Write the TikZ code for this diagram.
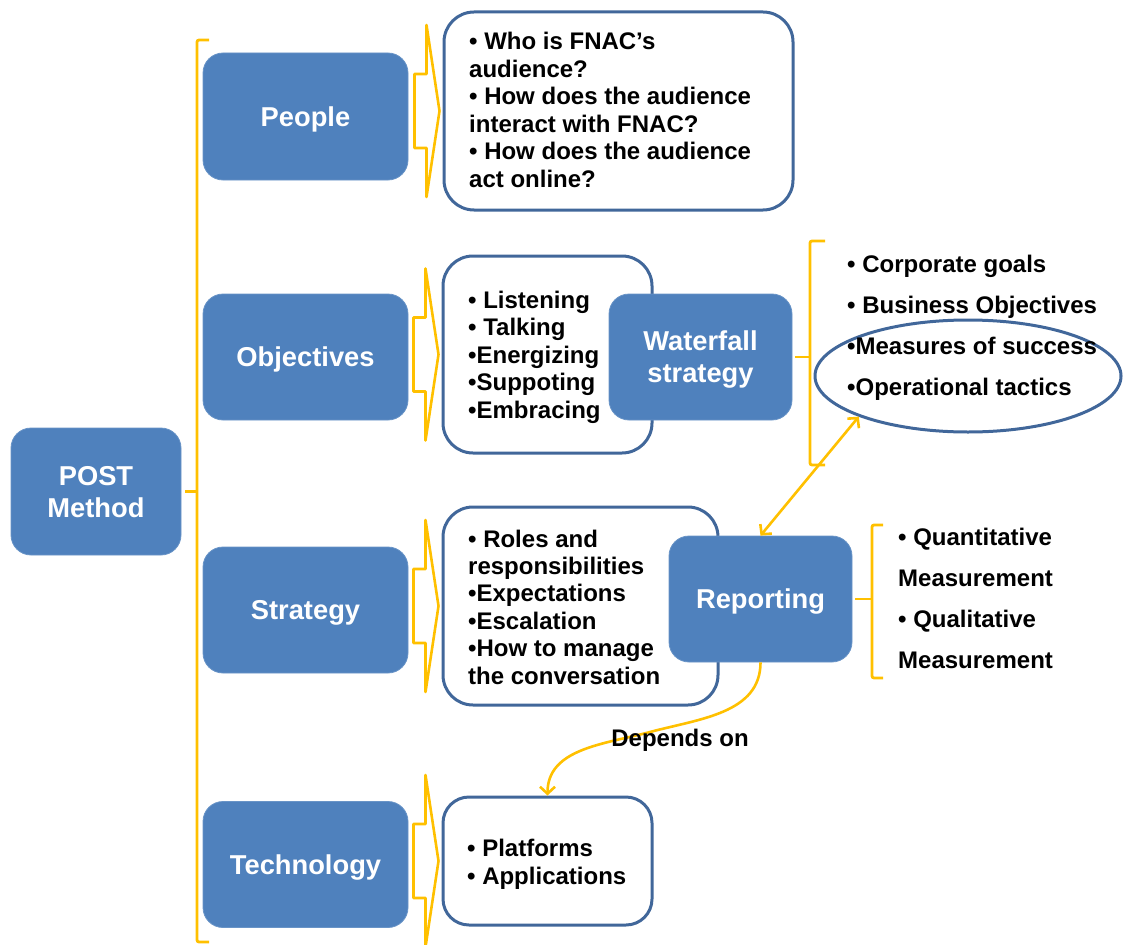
\documentclass[tikz,border=0pt]{standalone}
\usepackage{fontspec}
\setmainfont{Liberation Sans}
\usetikzlibrary{arrows.meta,shapes.geometric}
\definecolor{boxblue}{HTML}{4F81BD}
\definecolor{edgeblue}{HTML}{41679A}
\definecolor{gold}{HTML}{FFC000}
\begin{document}
\begin{tikzpicture}[x=1pt,y=-1pt,
  bluebox/.style={rectangle, rounded corners=20pt, fill=boxblue, draw=boxblue!85!white,
    line width=0.8pt, text=white, font=\fontsize{27.3}{32}\selectfont\bfseries,
    align=center, inner sep=0pt, text depth=0pt},
  whitebox/.style={rectangle, rounded corners=30pt, fill=white, draw=edgeblue,
    line width=3pt, inner sep=0pt},
  % multi-line text: the base anchor sits on the last line
  txt/.style={font=\fontsize{24}{27.4}\selectfont\bfseries, align=left,
    inner sep=0pt, anchor=base west},
  listtxt/.style={font=\fontsize{24}{41}\selectfont\bfseries, align=left,
    inner sep=0pt, anchor=base west},
  brk/.style={draw=gold, line width=2.8pt, rounded corners=2pt},
  goldarrow/.style={draw=gold, line width=2.6pt},
  barb/.tip={Straight Barb[length=7pt,width=15pt,line width=2.6pt]},
  notch/.pic={\draw[draw=gold, line width=2.6pt, line join=round]
    (-25,-37) -- (-13,-37) -- (-13,-86) -- (0,0) -- (-13,86) -- (-13,37) -- (-25,37) -- cycle;}
]
\useasboundingbox (0,0) rectangle (1123,944);

% main left column
\node[bluebox, minimum width=170pt, minimum height=127pt] (post) at (96,491.5) {POST\\Method};
\node[bluebox, minimum width=205pt, minimum height=127pt] (people) at (305.5,116.5) {People};
\node[bluebox, minimum width=205pt, minimum height=126pt] (objectives) at (305.5,357) {Objectives};
\node[bluebox, minimum width=205pt, minimum height=126pt] (strategy) at (305.5,610) {Strategy};
\node[bluebox, minimum width=205pt, minimum height=126pt] (technology) at (305.5,864.5) {Technology};

% big bracket grouping the four pillars
\draw[brk] (209,40) -- (197,40) -- (197,942) -- (209,942);
\draw[brk] ([xshift=4pt]post.east) -- (197,491.5);

% detail boxes
\node[whitebox, minimum width=349pt, minimum height=198pt] (peoplew) at (618.5,111) {};
\node[whitebox, minimum width=209pt, minimum height=197pt] (objw) at (547.5,354.5) {};
\node[whitebox, minimum width=275pt, minimum height=198pt] (stratw) at (580.5,606) {};
\node[whitebox, minimum width=209pt, minimum height=128pt, rounded corners=26pt] (techw) at (547.5,861) {};

% block arrows into detail boxes
\pic[xshift=-3pt] at (peoplew.west) {notch};
\pic[xshift=-3pt] at (objw.west) {notch};
\pic[xshift=-3pt] at (stratw.west) {notch};
\pic[xshift=-3pt] at (techw.west) {notch};

\node[txt] (peopletxt) at (469,187) {• Who is FNAC’s\\audience?\\• How does the audience\\interact with FNAC?\\• How does the audience\\act online?};
\node[txt] (objtxt) at (468,418) {• Listening\\• Talking\\•Energizing\\•Suppoting\\•Embracing};
\node[txt] (strattxt) at (468,684) {• Roles and\\responsibilities\\•Expectations\\•Escalation\\•How to manage\\the conversation};
\node[txt] (techtxt) at (467,884) {• Platforms\\• Applications};

% second-level boxes
\node[bluebox, minimum width=183pt, minimum height=126pt] (wf) at (700.5,357) {Waterfall\\strategy};
\node[bluebox, minimum width=183pt, minimum height=126pt] (rep) at (760.5,599) {Reporting};

% waterfall breakdown
\draw[brk] (825,241) -- (810,241) -- (810,465) -- (825,465);
\draw[brk] ([xshift=3pt]wf.east) -- (810,357);
\node[ellipse, draw=edgeblue, line width=3pt, minimum width=306pt, minimum height=112pt, inner sep=0pt] (meas) at (968,376) {};
\node[listtxt] (wflist) at (847,395) {• Corporate goals\\• Business Objectives\\•Measures of success\\•Operational tactics};

% reporting breakdown
\draw[brk] (883,525) -- (872,525) -- (872,678) -- (883,678);
\draw[brk] ([xshift=3pt]rep.east) -- (872,599);
\node[listtxt] (replist) at (898,668) {• Quantitative\\Measurement\\• Qualitative\\Measurement};

% links
\draw[goldarrow, {barb}-{barb}] (rep.north) -- (meas.south west);
\coordinate (bend) at (650,732);
\draw[goldarrow, -{barb}] (rep.south) to[out=-90,in=15] (bend) to[out=195,in=90] (techw.north);
\node[font=\fontsize{24}{27}\selectfont\bfseries, inner sep=0pt] (dep) at (680,740) {Depends on};
\end{tikzpicture}
\end{document}
